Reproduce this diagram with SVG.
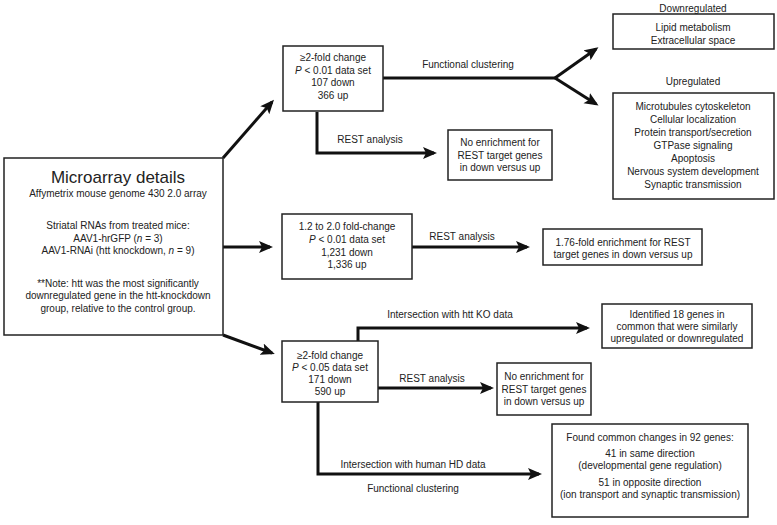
<svg xmlns="http://www.w3.org/2000/svg" width="777" height="525" viewBox="0 0 777 525">
<defs>
<marker id="ah" markerUnits="userSpaceOnUse" markerWidth="16" markerHeight="14" refX="11" refY="6" orient="auto">
<path d="M0,0 L14,6 L0,12 L3,6 z" fill="#111"/>
</marker>
<style>
.box{fill:#fff;stroke:#222;stroke-width:1.5}
text{font-family:"Liberation Sans",Arial,sans-serif;font-size:10px;fill:#222;text-anchor:middle}
.title{font-size:17px}
.c{fill:none;stroke:#111;stroke-width:3}
.a{marker-end:url(#ah)}
</style>
</defs>
<rect width="777" height="525" fill="#fff"/>

<g id="connectors">
<line class="c a" x1="223" y1="158" x2="272" y2="102"/>
<line class="c a" x1="223" y1="247" x2="270" y2="247"/>
<line class="c a" x1="223" y1="335" x2="272" y2="353"/>
<line class="c" x1="383" y1="78" x2="555" y2="78"/>
<line class="c a" x1="555" y1="78" x2="596" y2="49"/>
<line class="c a" x1="555" y1="78" x2="596" y2="104"/>
<polyline class="c a" points="317,112 317,153 434,153"/>
<line class="c a" x1="412" y1="247" x2="527" y2="247"/>
<polyline class="c a" points="358,341 358,328 587,328"/>
<line class="c a" x1="378" y1="388" x2="491" y2="388"/>
<polyline class="c a" points="318,402 318,474 539,474"/>
<text x="468" y="68">Functional clustering</text>
<text x="370" y="143">REST analysis</text>
<text x="462" y="240">REST analysis</text>
<text x="450" y="318">Intersection with htt KO data</text>
<text x="432" y="382">REST analysis</text>
<text x="413" y="468">Intersection with human HD data</text>
<text x="413" y="492">Functional clustering</text>
</g>

<g id="microarray">
<rect class="box" x="4" y="158" width="219" height="177"/>
<text class="title" x="118" y="183">Microarray details</text>
<text x="118" y="197">Affymetrix mouse genome 430 2.0 array</text>
<text x="118" y="229">Striatal RNAs from treated mice:</text>
<text x="118" y="242">AAV1-hrGFP (<tspan font-style="italic">n</tspan> = 3)</text>
<text x="118" y="254">AAV1-RNAi (htt knockdown, <tspan font-style="italic">n</tspan> = 9)</text>
<text x="118" y="287">**Note: htt was the most significantly</text>
<text x="118" y="299">downregulated gene in the htt-knockdown</text>
<text x="118" y="312">group, relative to the control group.</text>
</g>

<g id="set1">
<rect class="box" x="283" y="46" width="100" height="65"/>
<text x="333" y="61">≥2-fold change</text>
<text x="333" y="74"><tspan font-style="italic">P</tspan> &lt; 0.01 data set</text>
<text x="333" y="86">107 down</text>
<text x="333" y="99">366 up</text>
</g>

<g id="downregulated">
<text x="693" y="12">Downregulated</text>
<rect class="box" x="613" y="14" width="161" height="35"/>
<text x="693" y="31">Lipid metabolism</text>
<text x="693" y="44">Extracellular space</text>
</g>

<g id="upregulated">
<text x="693" y="85">Upregulated</text>
<rect class="box" x="613" y="93" width="161" height="106"/>
<text x="693" y="110">Microtubules cytoskeleton</text>
<text x="693" y="123">Cellular localization</text>
<text x="693" y="136">Protein transport/secretion</text>
<text x="693" y="149">GTPase signaling</text>
<text x="693" y="162">Apoptosis</text>
<text x="693" y="175">Nervous system development</text>
<text x="693" y="188">Synaptic transmission</text>
</g>

<g id="noenrich1">
<rect class="box" x="448" y="130" width="104" height="50"/>
<text x="500" y="146">No enrichment for</text>
<text x="500" y="159">REST target genes</text>
<text x="500" y="171">in down versus up</text>
</g>

<g id="set2">
<rect class="box" x="282" y="214" width="130" height="65"/>
<text x="347" y="230">1.2 to 2.0 fold-change</text>
<text x="347" y="243"><tspan font-style="italic">P</tspan> &lt; 0.01 data set</text>
<text x="347" y="256">1,231 down</text>
<text x="347" y="268">1,336 up</text>
</g>

<g id="enrich176">
<rect class="box" x="543" y="229" width="159" height="36"/>
<text x="623" y="246">1.76-fold enrichment for REST</text>
<text x="623" y="258">target genes in down versus up</text>
</g>

<g id="set3">
<rect class="box" x="282" y="341" width="96" height="61"/>
<text x="330" y="359">≥2-fold change</text>
<text x="330" y="371"><tspan font-style="italic">P</tspan> &lt; 0.05 data set</text>
<text x="330" y="383">171 down</text>
<text x="330" y="395">590 up</text>
</g>

<g id="identified">
<rect class="box" x="602" y="304" width="150" height="44"/>
<text x="677" y="318">Identified 18 genes in</text>
<text x="677" y="330">common that were similarly</text>
<text x="677" y="342">upregulated or downregulated</text>
</g>

<g id="noenrich2">
<rect class="box" x="497" y="363" width="94" height="52"/>
<text x="544" y="380">No enrichment for</text>
<text x="544" y="393">REST target genes</text>
<text x="544" y="405">in down versus up</text>
</g>

<g id="found">
<rect class="box" x="552" y="424" width="196" height="93"/>
<text x="650" y="441">Found common changes in 92 genes:</text>
<text x="650" y="457">41 in same direction</text>
<text x="650" y="469">(developmental gene regulation)</text>
<text x="650" y="486">51 in opposite direction</text>
<text x="650" y="498">(ion transport and synaptic transmission)</text>
</g>
</svg>
